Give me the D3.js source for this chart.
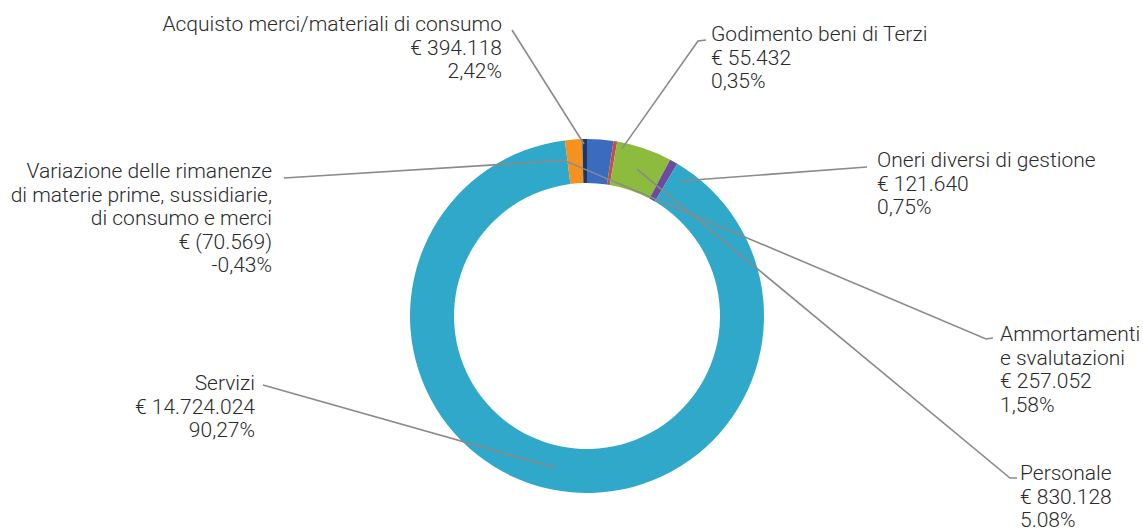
<!DOCTYPE html>
<html>
<head>
<meta charset="utf-8">
<script src="https://cdn.jsdelivr.net/npm/d3@7"></script>
<style>
  html, body { margin: 0; padding: 0; background: #ffffff; }
  svg { display: block; }
  text { font-family: Roboto, "Open Sans", sans-serif; font-weight: 300; fill: #2b2b2b; }
</style>
</head>
<body>
<svg id="chart" width="1143" height="528"></svg>
<script>
// ---- data ----
const categories = [
  "Acquisto merci/materiali di consumo",
  "Godimento beni di Terzi",
  "Personale",
  "Oneri diversi di gestione",
  "Servizi",
  "Ammortamenti e svalutazioni",
  "Variazione delle rimanenze di materie prime, sussidiarie, di consumo e merci"
];
const values = [394118, 55432, 830128, 121640, 14724024, 257052, -70569];
const valueLabels = ["€ 394.118", "€ 55.432", "€ 830.128", "€ 121.640", "€ 14.724.024", "€ 257.052", "€ (70.569)"];
const percentLabels = ["2,42%", "0,35%", "5.08%", "0,75%", "90,27%", "1,58%", "-0,43%"];
const nameLines = [
  ["Acquisto merci/materiali di consumo"],
  ["Godimento beni di Terzi"],
  ["Personale"],
  ["Oneri diversi di gestione"],
  ["Servizi"],
  ["Ammortamenti", "e svalutazioni"],
  ["Variazione delle rimanenze", "di materie prime, sussidiarie,", "di consumo e merci"]
];
const colors = ["#3a6bbd", "#c0504d", "#8dbb3e", "#6e4a9e", "#30a8ca", "#f5911f", "#1f3763"];

// ---- layout (label placement, as placed by hand in the original) ----
const labelLayout = [
  { x: 502, y: 31, anchor: "end",   lead: [[512, 30]], endAngle: -1.0, endR: 172 },
  { x: 711, y: 41, anchor: "start", lead: [[706, 40], [698, 41]], endAngle: 11.8, endR: 171 },
  { x: 1020, y: 480, anchor: "start", lead: [[1017, 478], [1010, 478]], endAngle: null },
  { x: 877, y: 167, anchor: "start", lead: [[867, 167]], endAngle: 34.6, endR: 164 },
  { x: 255, y: 390, anchor: "end",   lead: [[263, 385]], endAngle: null },
  { x: 1000, y: 341, anchor: "start", lead: [[993, 338], [986, 339]], endAngle: -7.6, endR: 156 },
  { x: 272, y: 178, anchor: "end",   lead: [[284, 178]], endAngle: -7.7, endR: 157 }
];
const lineHeight = 23.5;
const fontSize = 21;

const cx = 587, cy = 316, outerR = 177, innerR = 133;

const svg = d3.select("#chart");
const g = svg.append("g").attr("transform", `translate(${cx},${cy})`);

const pie = d3.pie().sort(null).value(d => Math.abs(d));
const arcs = pie(values);
const arc = d3.arc().innerRadius(innerR).outerRadius(outerR);
const color = d3.scaleOrdinal().domain(categories).range(colors);

g.selectAll("path.slice")
  .data(arcs)
  .join("path")
  .attr("class", "slice")
  .attr("d", arc)
  .attr("fill", (d, i) => color(categories[i]));

// leader lines
const polar = (deg, r) => {
  const a = deg * Math.PI / 180;
  return [cx + r * Math.sin(a), cy - r * Math.cos(a)];
};
const lineGen = d3.line();
arcs.forEach((d, i) => {
  const L = labelLayout[i];
  let end;
  if (L.endAngle === null) {
    const c = arc.centroid(d);
    end = [cx + c[0], cy + c[1]];
  } else {
    end = polar(L.endAngle, L.endR);
  }
  svg.append("path")
    .attr("d", lineGen([...L.lead, end]))
    .attr("fill", "none")
    .attr("stroke", "#8a8a8a")
    .attr("stroke-width", 1.6);
});

// labels
categories.forEach((c, i) => {
  const L = labelLayout[i];
  const lines = [...nameLines[i], valueLabels[i], percentLabels[i]];
  const t = svg.append("text")
    .attr("x", L.x)
    .attr("y", L.y)
    .attr("text-anchor", L.anchor)
    .style("font-size", fontSize + "px");
  lines.forEach((ln, k) => {
    t.append("tspan").attr("x", L.x).attr("y", L.y + k * lineHeight).text(ln);
  });
});
</script>
</body>
</html>
